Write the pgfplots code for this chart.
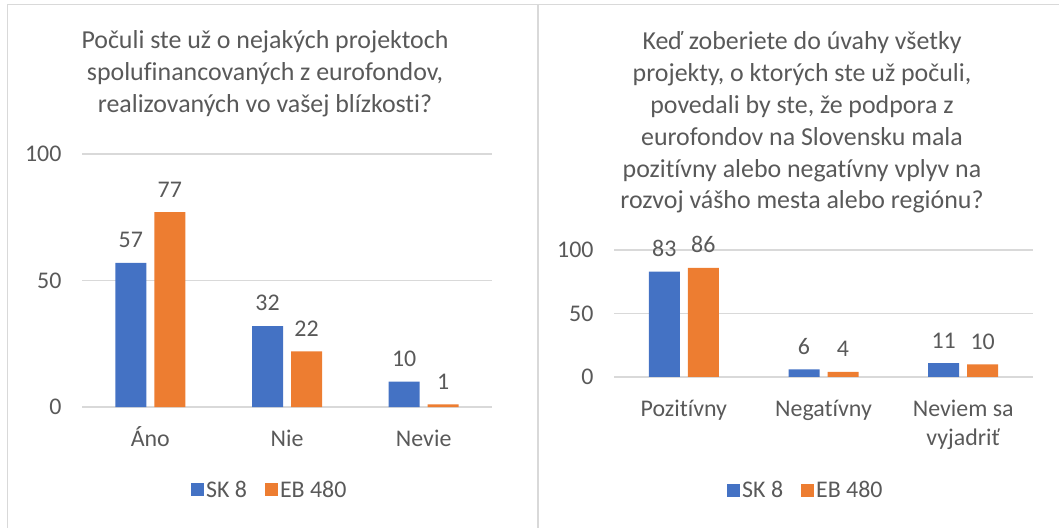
\documentclass[border=0pt]{standalone}
\usepackage{pgfplots}
\pgfplotsset{compat=1.18}
\usepackage{fontspec}
\setmainfont{Carlito}[Ligatures=NoCommon]
\definecolor{cblue}{HTML}{4472C4}
\definecolor{corange}{HTML}{ED7D31}
\definecolor{tgray}{HTML}{595959}
\definecolor{ggray}{HTML}{D9D9D9}
\newcommand{\lblfont}{\fontsize{24}{29}\selectfont}
\pgfplotsset{
  mystyle/.style={
    scale only axis,
    ybar=8bp, bar width=31bp,
    xmin=-0.5, xmax=2.5, ymin=0, ymax=100,
    ytick={0,50,100},
    xtick=data,
    axis line style={draw=none},
    ymajorgrids, grid style={ggray, line width=1.3bp},
    major tick length=0pt,
    tick label style={font=\lblfont, text=tgray},
    /pgf/number format/assume math mode=true,
    yticklabel style={xshift=-17bp},
    xticklabel style={yshift=-16bp, align=center},
    nodes near coords,
    every node near coord/.append style={font=\lblfont, text=tgray, yshift=11.5bp},
    clip=false,
    legend columns=2,
    legend style={draw=none, fill=none, font=\lblfont, text=tgray, anchor=center,
      /tikz/every even column/.append style={column sep=16bp}},
    legend image code/.code={\fill[##1] (0bp,-6.5bp) rectangle (13bp,6.5bp);},
  }
}
\begin{document}
\begin{tikzpicture}
\path[use as bounding box] (0,0) rectangle (1059bp,528bp);
% panel borders
\draw[ggray, line width=1.6bp] (7.5bp,-10bp) -- (7.5bp,523.5bp) -- (1070bp,523.5bp);
\draw[ggray, line width=2.4bp] (538bp,-10bp) -- (538bp,523.5bp);
% titles
\node[align=center, text=tgray, font=\fontsize{26}{32}\selectfont] at (265bp,454bp)
  {Počuli ste už o nejakých projektoch\\spolufinancovaných z eurofondov,\\realizovaných vo vašej blízkosti?};
\node[align=center, text=tgray, font=\fontsize{26}{32}\selectfont] at (802bp,405.5bp)
  {Keď zoberiete do úvahy všetky\\projekty, o ktorých ste už počuli,\\povedali by ste, že podpora z\\eurofondov na Slovensku mala\\pozitívny alebo negatívny vplyv na\\rozvoj vášho mesta alebo regiónu?};
\begin{axis}[mystyle,
  at={(82bp,121bp)}, anchor=south west, width=410bp, height=253bp,
  xticklabels={{\vphantom{Á}Áno}, {\vphantom{Á}Nie}, {\vphantom{Á}Nevie}},
  legend style={at={(0.458,-0.328)}},
]
\addplot[fill=cblue, draw=none] coordinates {(0,57) (1,32) (2,10)};
\addplot[fill=corange, draw=none] coordinates {(0,77) (1,22) (2,1)};
\legend{SK 8, EB 480}
\end{axis}
\begin{axis}[mystyle,
  at={(614bp,151bp)}, anchor=south west, width=419bp, height=127bp,
  xticklabels={{\vphantom{Á}Pozitívny}, {\vphantom{Á}Negatívny}, {\vphantom{Á}Neviem sa\\vyjadriť}},
  legend style={at={(0.458,-0.89)}},
]
\addplot[fill=cblue, draw=none] coordinates {(0,83) (1,6) (2,11)};
\addplot[fill=corange, draw=none] coordinates {(0,86) (1,4) (2,10)};
\legend{SK 8, EB 480}
\end{axis}
\end{tikzpicture}
\end{document}
